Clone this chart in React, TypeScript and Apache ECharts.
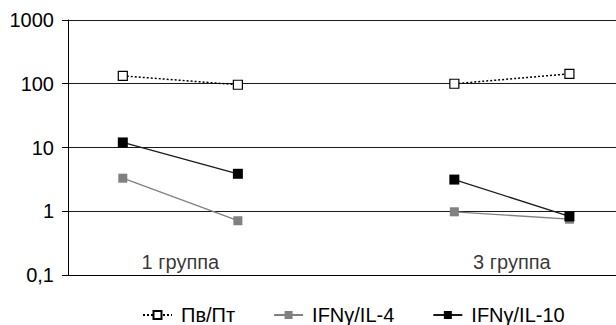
import React, { useEffect, useRef } from "react";
import * as echarts from "echarts";

const xPositions = [1, 3.1, 7.05, 9.15];
const groupLabels = ["1 группа", "3 группа"];
const groupLabelX = [2.05, 8.1];
const groupLabelY = 0.16;
const seriesNames = ["Пв/Пт", "IFNγ/IL-4", "IFNγ/IL-10"];
const pvPt = [133, 96.5, 100, 143];
const ifnIl4 = [3.3, 0.71, 0.98, 0.75];
const ifnIl10 = [12, 3.87, 3.14, 0.83];

const FONT = "'Liberation Sans', Arial, sans-serif";
const FS = 20;

function toPairs(vals: number[]) {
  // break line between groups
  return [
    [xPositions[0], vals[0]],
    [xPositions[1], vals[1]],
    [(xPositions[1] + xPositions[2]) / 2, null],
    [xPositions[2], vals[2]],
    [xPositions[3], vals[3]],
  ];
}

export default function App() {
  const ref = useRef<HTMLDivElement>(null);
  useEffect(() => {
    if (!ref.current) return;
    const chart = echarts.init(ref.current, null, { renderer: "svg" });
    chart.setOption({
      animation: false,
      backgroundColor: "#fff",
      textStyle: { fontFamily: FONT, color: "#000" },
      grid: { left: 68, top: 20, right: 0, height: 255 },
      xAxis: {
        type: "value",
        min: 0,
        max: 10,
        axisLine: { show: true, onZero: false, lineStyle: { color: "#000", width: 1 } },
        axisTick: { show: false },
        axisLabel: { show: false },
        splitLine: { show: false },
      },
      yAxis: {
        type: "log",
        logBase: 10,
        min: 0.1,
        max: 1000,
        axisLine: { show: true, lineStyle: { color: "#000", width: 1 } },
        axisTick: { show: true, length: 6, lineStyle: { color: "#000" } },
        axisLabel: {
          color: "#000",
          fontFamily: FONT,
          fontSize: FS,
          margin: 14,
          padding: [5, 0, 0, 0],
          formatter: (v: number) => String(v).replace(".", ","),
        },
        splitLine: { show: true, lineStyle: { color: "#1a1a1a", width: 1 } },
      },
      legend: {
        data: seriesNames,
        left: 137,
        top: 300,
        itemWidth: 29,
        itemHeight: 10,
        itemGap: 38,
        textStyle: { fontFamily: FONT, fontSize: FS, color: "#000", padding: [0, 0, 0, 4] },
      },
      series: [
        {
          name: seriesNames[0],
          type: "line",
          data: toPairs(pvPt),
          symbol: "rect",
          symbolSize: 9,
          connectNulls: false,
          itemStyle: { color: "#fff", borderColor: "#000", borderWidth: 1.2 },
          lineStyle: { color: "#000", width: 1.5, type: [2, 2] },
          z: 3,
        },
        {
          name: seriesNames[1],
          type: "line",
          data: toPairs(ifnIl4),
          symbol: "rect",
          symbolSize: 9,
          connectNulls: false,
          itemStyle: { color: "#808080", borderColor: "#808080", borderWidth: 0 },
          lineStyle: { color: "#808080", width: 1.3 },
          z: 3,
        },
        {
          name: seriesNames[2],
          type: "line",
          data: toPairs(ifnIl10),
          symbol: "rect",
          symbolSize: 10,
          connectNulls: false,
          itemStyle: { color: "#000", borderColor: "#000", borderWidth: 0 },
          lineStyle: { color: "#1a1a1a", width: 1.3 },
          z: 4,
        },
        {
          name: "groups",
          type: "scatter",
          symbolSize: 0,
          silent: true,
          data: groupLabels.map((g, i) => ({ value: [groupLabelX[i], groupLabelY], name: g })),
          label: {
            show: true,
            position: "inside",
            formatter: (p: any) => p.name,
            fontFamily: FONT,
            fontSize: FS,
            color: "#000",
          },
        },
      ],
    });
    return () => chart.dispose();
  }, []);
  return (
    <div
      ref={ref}
      style={{ position: "fixed", left: 0, top: 0, width: 616, height: 325 }}
    />
  );
}
